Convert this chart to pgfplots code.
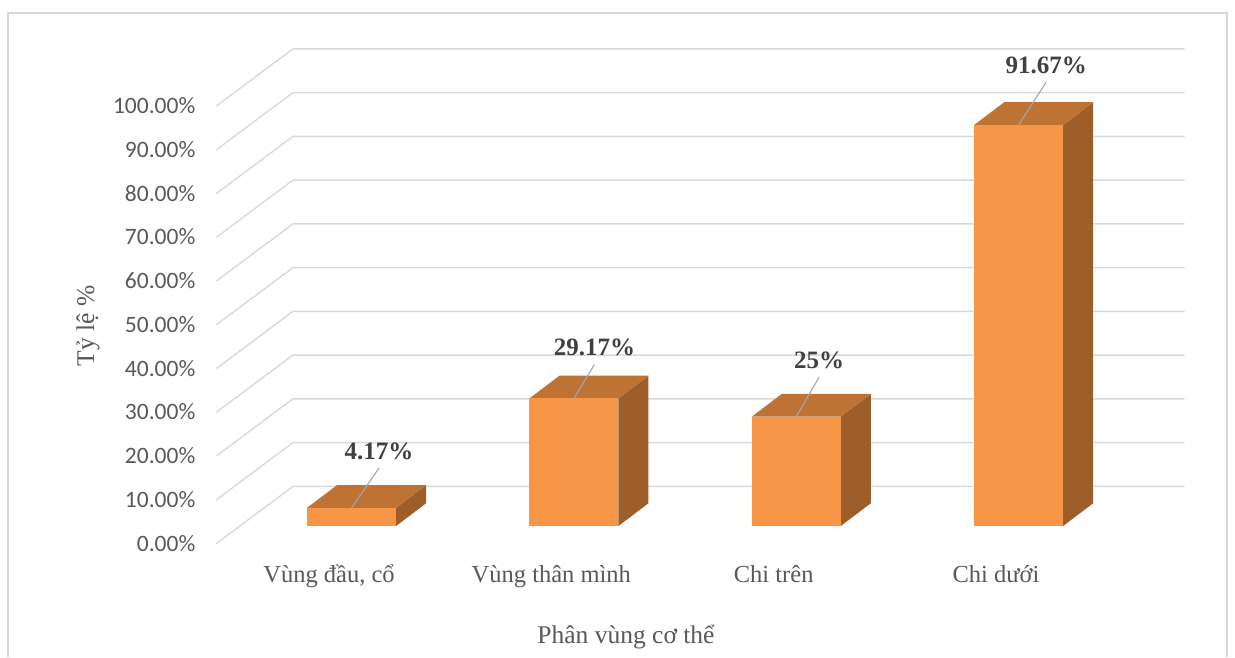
\documentclass[border=0pt]{standalone}
\usepackage{fontspec}
\setmainfont{Liberation Serif}
\newfontfamily\tickfont{Carlito}
\usepackage{pgfplots}
\usepackage{pgfplotstable}
\pgfplotsset{compat=1.18}
\definecolor{frontc}{HTML}{F79646}
\definecolor{topc}{HTML}{BE7234}
\definecolor{sidec}{HTML}{9D5E2A}
\definecolor{gridc}{HTML}{D9D9D9}
\definecolor{txtc}{HTML}{595959}
\definecolor{lblc}{HTML}{404040}
\definecolor{leadc}{HTML}{A6A6A6}
\tikzset{
  gridl/.style={draw=gridc, line width=1.4pt, line join=round, line cap=round},
  tickl/.style={anchor=east, font=\tickfont\fontsize{23.5}{28}\selectfont, text=txtc, inner sep=0pt},
  catl/.style={anchor=base, font=\fontsize{24.5}{28}\selectfont, text=txtc, inner sep=0pt},
  titl/.style={font=\fontsize{25.5}{30}\selectfont, text=txtc, inner sep=0pt},
}
\pgfplotstableread{
x v lx ly
0 4.17 0.123 11.06
1 29.17 0.092 9.74
2 25 0.103 11.06
3 91.67 0.124 11.8
}\datatable
\begin{document}
\begin{tikzpicture}
\useasboundingbox (0,0) rectangle (1235pt,657pt);
\begin{axis}[
  at={(0,0)}, anchor=south west,
  x=222.35pt, y=4.375pt,
  xmin=-1.5813, xmax=3.9730, ymin=-29.94, ymax=120.23,
  axis line style={draw=none}, xtick=\empty, ytick=\empty,
  clip=false,
]
% chart frame
\draw[draw=gridc, line width=1.3pt] (axis cs:-1.5453,-29.94) -- (axis cs:-1.5453,117.26) -- (axis cs:3.937,117.26) -- (axis cs:3.937,-29.94);
% walls, gridlines and tick labels
\pgfplotsinvokeforeach{0,10,...,100}{%
  \pgfmathsetmacro\gb{9.07+#1}%
  \pgfmathsetmacro\gf{#1-3.95}%
  \edef\tmp{\noexpand\draw[gridl] (axis cs:-0.6067,\gf) -- (axis cs:-0.2636,\gb) -- (axis cs:3.744,\gb);
    \noexpand\node[tickl] at (axis cs:-0.702,\gf) {#1.00\noexpand\%};}%
  \tmp
}
% 3D faces of the bars
\pgfplotsinvokeforeach{0,1,2,3}{%
  \pgfplotstablegetelem{#1}{v}\of\datatable \let\vv\pgfplotsretval
  \pgfplotstablegetelem{#1}{lx}\of\datatable \let\lxv\pgfplotsretval
  \pgfplotstablegetelem{#1}{ly}\of\datatable \let\lyv\pgfplotsretval
  \pgfmathsetmacro\xl{#1-0.2}%
  \pgfmathsetmacro\xr{#1+0.2}%
  \pgfmathsetmacro\xb{#1+0.335}%
  \pgfmathsetmacro\xbl{#1-0.065}%
  \pgfmathsetmacro\vt{\vv+5.2}%
  \pgfmathsetmacro\lxe{#1+\lxv}%
  \pgfmathsetmacro\lye{\vv+\lyv-2}%
  \edef\tmp{%
    \noexpand\addplot[fill=sidec, draw=none] coordinates {(\xr,0) (\xb,5.2) (\xb,\vt) (\xr,\vv)};
    \noexpand\addplot[fill=topc, draw=none] coordinates {(\xl,\vv) (\xr,\vv) (\xb,\vt) (\xbl,\vt)};
    \noexpand\addplot[fill=frontc, draw=none] coordinates {(\xl,0) (\xr,0) (\xr,\vv) (\xl,\vv)};
    \noexpand\addplot[draw=leadc, line width=1.1pt] coordinates {(#1,\vv) (\lxe,\lye)};
  }%
  \tmp
}
% data labels
\addplot[draw=none, point meta=explicit symbolic,
  nodes near coords={\pgfplotspointmeta\%},
  every node near coord/.append style={anchor=base, inner sep=0pt, text=lblc, font=\bfseries\fontsize{25}{30}\selectfont}]
  table[x expr=\thisrow{x}+\thisrow{lx}, y expr=\thisrow{v}+\thisrow{ly}, meta=v]{\datatable};
% category labels
\node[catl] at (axis cs:-0.1017,-12.8) {Vùng đầu, cổ};
\node[catl] at (axis cs:0.8983,-12.8) {Vùng thân mình};
\node[catl] at (axis cs:1.8983,-12.8) {Chi trên};
\node[catl] at (axis cs:2.8983,-12.8) {Chi dưới};
% axis titles
\node[titl, anchor=base] at (axis cs:1.234,-26.8) {Phân vùng cơ thể};
\node[titl, rotate=90] at (axis cs:-1.1853,45.7) {Tỷ lệ \%};
\end{axis}
\end{tikzpicture}
\end{document}
